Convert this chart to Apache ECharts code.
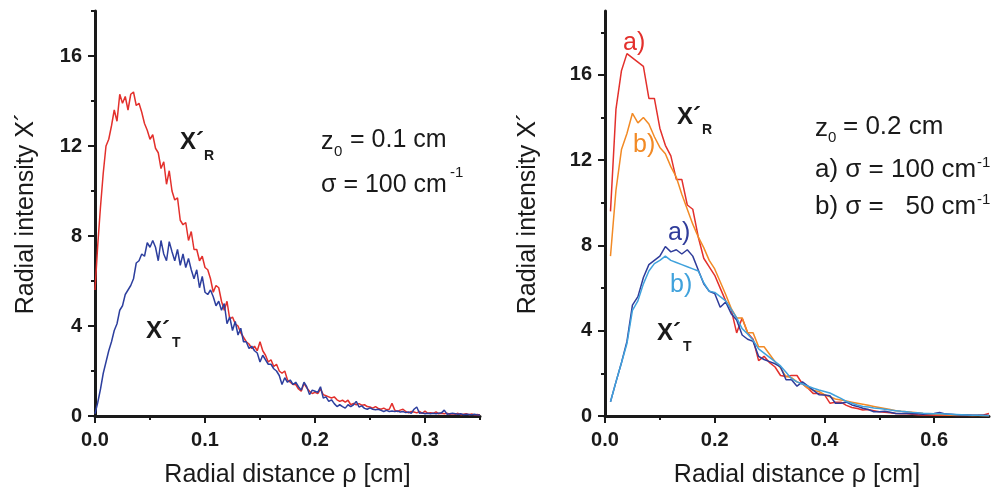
<!DOCTYPE html>
<html>
<head>
<meta charset="utf-8">
<script src="https://cdn.jsdelivr.net/npm/echarts@6/dist/echarts.min.js"></script>
<style>
html,body{margin:0;padding:0;background:#fff;}
#chart{width:995px;height:494px;}
</style>
</head>
<body>
<div id="chart"></div>
<script>
// ---------- Left panel (z0 = 0.1 cm, sigma = 100 cm^-1) ----------
const leftX = [
  0.0000,0.0025,0.0050,0.0075,0.0100,0.0125,0.0150,0.0175,0.0200,0.0225,
  0.0250,0.0275,0.0300,0.0325,0.0350,0.0375,0.0400,0.0425,0.0450,0.0475,
  0.0500,0.0525,0.0550,0.0575,0.0600,0.0625,0.0650,0.0675,0.0700,0.0725,
  0.0750,0.0775,0.0800,0.0825,0.0850,0.0875,0.0900,0.0925,0.0950,0.0975,
  0.1000,0.1025,0.1050,0.1075,0.1100,0.1125,0.1150,0.1175,0.1200,0.1225,
  0.1250,0.1275,0.1300,0.1325,0.1350,0.1375,0.1400,0.1425,0.1450,0.1475,
  0.1500,0.1525,0.1550,0.1575,0.1600,0.1625,0.1650,0.1675,0.1700,0.1725,
  0.1750,0.1775,0.1800,0.1825,0.1850,0.1875,0.1900,0.1925,0.1950,0.1975,
  0.2000,0.2025,0.2050,0.2075,0.2100,0.2125,0.2150,0.2175,0.2200,0.2225,
  0.2250,0.2275,0.2300,0.2325,0.2350,0.2375,0.2400,0.2425,0.2450,0.2475,
  0.2500,0.2525,0.2550,0.2575,0.2600,0.2625,0.2650,0.2675,0.2700,0.2725,
  0.2750,0.2775,0.2800,0.2825,0.2850,0.2875,0.2900,0.2925,0.2950,0.2975,
  0.3000,0.3025,0.3050,0.3075,0.3100,0.3125,0.3150,0.3175,0.3200,0.3225,
  0.3250,0.3275,0.3300,0.3325,0.3350,0.3375,0.3400,0.3425,0.3450,0.3475,
  0.3500
];
const leftRed = [
  5.6,7.6,9.3,10.8,12.0,12.3,12.9,13.6,13.1,14.3,
  13.9,14.2,13.6,14.3,14.4,13.8,13.9,13.5,13.0,12.7,
  12.3,12.5,11.9,11.7,11.0,11.3,10.3,10.9,10.0,9.6,
  9.7,8.7,8.5,8.6,7.8,8.2,7.4,7.4,6.9,7.1,
  6.6,6.5,6.1,5.5,5.8,5.7,5.1,4.7,5.1,4.3,
  4.4,4.1,4.0,3.7,3.5,3.3,3.2,3.0,3.1,2.9,
  3.3,2.9,2.7,2.4,2.5,2.2,2.3,2.0,1.9,2.0,
  1.6,1.5,1.4,1.4,1.2,1.1,1.45,1.25,1.1,1.0,
  1.05,1.0,1.2,0.95,0.9,0.85,0.8,0.85,0.72,0.65,
  0.7,0.62,0.7,0.5,0.56,0.5,0.55,0.48,0.5,0.42,
  0.4,0.35,0.42,0.34,0.3,0.35,0.28,0.3,0.56,0.26,
  0.2,0.26,0.3,0.2,0.14,0.2,0.18,0.14,0.2,0.12,
  0.22,0.12,0.15,0.12,0.18,0.1,0.12,0.1,0.12,0.08,
  0.1,0.08,0.12,0.06,0.08,0.1,0.06,0.09,0.05,0.07,
  0.04
];
const leftBlue = [
  0.1,0.6,1.2,1.9,2.4,2.9,3.3,3.8,4.1,4.7,
  4.9,5.4,5.6,5.8,6.1,6.8,6.9,7.2,7.1,7.7,
  7.5,7.8,7.5,6.9,7.8,7.2,6.9,7.75,7.3,6.9,
  7.4,6.7,7.2,6.6,7.0,6.5,6.1,6.5,5.7,6.2,
  5.5,5.4,5.6,5.3,4.9,5.1,4.7,5.0,4.1,4.4,
  3.8,4.2,3.6,3.9,3.3,3.3,3.0,3.1,2.9,2.8,
  2.4,2.7,2.5,2.3,2.3,2.1,2.0,1.8,1.4,1.7,
  1.5,1.6,1.4,1.5,1.3,1.15,1.5,1.3,0.95,1.15,
  1.1,1.05,1.3,0.8,0.85,0.65,0.72,0.55,0.42,0.5,
  0.42,0.35,0.5,0.42,0.5,0.65,0.4,0.45,0.34,0.3,
  0.36,0.3,0.28,0.3,0.25,0.2,0.25,0.2,0.22,0.2,
  0.22,0.18,0.2,0.15,0.18,0.12,0.3,0.4,0.12,0.14,
  0.1,0.12,0.1,0.12,0.1,0.12,0.14,0.26,0.08,0.1,
  0.12,0.1,0.08,0.1,0.06,0.08,0.07,0.05,0.08,0.05,
  0.04
];

// ---------- Right panel (z0 = 0.2 cm) ----------
const rightX = [
  0.01,0.02,0.03,0.04,0.05,0.06,0.07,0.08,0.09,0.10,
  0.11,0.12,0.13,0.14,0.15,0.16,0.17,0.18,0.19,0.20,
  0.21,0.22,0.23,0.24,0.25,0.26,0.27,0.28,0.29,0.30,
  0.31,0.32,0.33,0.34,0.35,0.36,0.37,0.38,0.39,0.40,
  0.41,0.42,0.43,0.44,0.45,0.46,0.47,0.48,0.49,0.50,
  0.51,0.52,0.53,0.54,0.55,0.56,0.57,0.58,0.59,0.60,
  0.61,0.62,0.63,0.64,0.65,0.66,0.67,0.68,0.69,0.70
];
const rightRedA = [
  9.6,14.4,16.2,17.0,16.8,16.6,16.4,14.9,14.9,13.5,
  12.7,12.2,11.1,11.1,9.9,9.7,8.4,7.4,7.0,6.6,
  6.0,5.4,5.0,3.9,4.6,3.9,3.6,2.6,2.8,2.5,
  2.3,1.9,1.85,1.9,1.9,1.5,1.3,1.05,1.05,1.0,
  0.6,0.65,0.65,0.5,0.4,0.35,0.28,0.3,0.25,0.2,
  0.18,0.15,0.12,0.1,0.1,0.08,0.06,0.05,0.05,0.04,
  0.03,0.04,0.03,0.02,0.02,0.03,0.02,0.03,0.05,0.12
];
const rightOrangeB = [
  7.5,10.6,12.5,13.25,14.2,13.75,14.0,13.7,13.1,12.6,
  12.3,11.7,11.2,10.4,9.7,9.0,8.4,7.9,7.3,6.9,
  6.3,5.7,5.05,4.6,4.6,3.9,3.9,3.25,3.25,2.9,
  2.55,2.25,1.85,1.8,1.6,1.5,1.3,1.2,1.15,1.0,
  0.9,0.8,0.75,0.7,0.65,0.6,0.55,0.5,0.45,0.4,
  0.35,0.3,0.25,0.22,0.2,0.18,0.15,0.12,0.1,0.08,
  0.07,0.06,0.05,0.04,0.03,0.03,0.02,0.02,0.01,0.01
];
const rightBlueA = [
  0.67,1.6,2.5,3.5,5.2,5.6,6.5,7.1,7.3,7.5,
  7.95,7.7,7.8,7.6,7.8,7.5,6.85,6.2,5.85,5.75,
  5.1,5.35,4.8,4.5,3.8,3.6,3.5,2.8,2.65,2.55,
  2.45,2.3,1.7,1.7,1.4,1.6,1.4,1.2,1.0,0.98,
  0.95,0.6,0.6,0.65,0.52,0.45,0.36,0.3,0.2,0.2,
  0.22,0.18,0.12,0.12,0.13,0.1,0.1,0.08,0.1,0.12,
  0.16,0.1,0.08,0.06,0.05,0.05,0.04,0.03,0.03,0.02
];
const rightLightBlueB = [
  0.67,1.6,2.5,3.4,4.95,5.4,6.2,6.8,7.15,7.3,
  7.5,7.3,7.2,7.1,7.0,6.9,6.8,6.25,5.85,5.8,
  5.6,5.4,5.0,4.6,4.1,3.85,3.55,3.15,2.95,2.75,
  2.55,2.35,2.05,1.75,1.6,1.5,1.4,1.3,1.22,1.15,
  1.08,0.95,0.83,0.68,0.6,0.52,0.45,0.42,0.38,0.35,
  0.32,0.28,0.25,0.22,0.2,0.17,0.15,0.13,0.12,0.11,
  0.1,0.09,0.08,0.07,0.06,0.05,0.04,0.03,0.02,0.01
];

// ---------- Ticks ----------
const leftXTicks = [0, 0.1, 0.2, 0.3];
const leftXMinor = [0.05, 0.15, 0.25, 0.35];
const rightXTicks = [0, 0.2, 0.4, 0.6];
const rightXMinor = [0.1, 0.3, 0.5];
const yTicks = [0, 4, 8, 12, 16];
const yMinor = [2, 6, 10, 14, 18];

const xName = 'Radial distance \u03c1 [cm]';
const yName = 'Radial intensity X\u00b4';

const AX = '#1a1a1a';
const LABEL_FONT = {fontFamily: 'Liberation Sans', fontWeight: 'bold', fontSize: 20, color: AX};
const NAME_FONT = {fontFamily: 'Liberation Sans', fontSize: 25, color: AX};

function zip(xs, ys){ return xs.map((x, i) => [x, ys[i]]); }

function majorX(grid, max, ticks){
  return {
    type: 'value', gridIndex: grid, min: 0, max: max,
    name: xName, nameLocation: 'middle', nameGap: 47, nameTextStyle: NAME_FONT,
    axisLine: {show: true, onZero: false, lineStyle: {color: AX, width: 3}},
    axisTick: {show: true, customValues: ticks, length: 7, lineStyle: {color: AX, width: 2}},
    axisLabel: Object.assign({show: true, customValues: ticks, margin: 14,
      formatter: v => Number(v).toFixed(1)}, LABEL_FONT),
    splitLine: {show: false}
  };
}
function minorX(grid, max, ticks){
  return {
    type: 'value', gridIndex: grid, min: 0, max: max, position: 'bottom',
    axisLine: {show: false, onZero: false},
    axisTick: {show: true, customValues: ticks, length: 4, lineStyle: {color: AX, width: 2}},
    axisLabel: {show: false}, splitLine: {show: false}
  };
}
function majorY(grid, max, gap){
  return {
    type: 'value', gridIndex: grid, min: 0, max: max,
    name: yName, nameLocation: 'middle', nameGap: gap, nameTextStyle: NAME_FONT,
    axisLine: {show: true, onZero: false, lineStyle: {color: AX, width: 3}},
    axisTick: {show: true, customValues: yTicks, length: 7, lineStyle: {color: AX, width: 2}},
    axisLabel: Object.assign({show: true, customValues: yTicks, margin: 13}, LABEL_FONT),
    splitLine: {show: false}
  };
}
function minorY(grid, max){
  return {
    type: 'value', gridIndex: grid, min: 0, max: max, position: 'left',
    axisLine: {show: false, onZero: false},
    axisTick: {show: true, customValues: yMinor, length: 4, lineStyle: {color: AX, width: 2}},
    axisLabel: {show: false}, splitLine: {show: false}
  };
}

function line(xi, yi, data, color, z){
  return {type: 'line', xAxisIndex: xi, yAxisIndex: yi, data: data, showSymbol: false,
    symbol: 'none', lineStyle: {color: color, width: 1.5}, z: z, animation: false, silent: true};
}

function txt(x, y, text, font, color){
  return {type: 'text', x: x, y: y, z: 100,
    style: {text: text, font: font, fill: color || AX, align: 'left', verticalAlign: 'middle',
            textAlign: 'left', textVerticalAlign: 'middle'}};
}
const F = '"Liberation Sans", Arial, sans-serif';
const RED = '#e3302c', BLUE = '#2d3f9e', ORANGE = '#f28a25', DBLUE = '#2f3c9a', LBLUE = '#40a2dc';

const chart = echarts.init(document.getElementById('chart'), null, {renderer: 'canvas'});
chart.setOption({
  animation: false,
  backgroundColor: '#fff',
  grid: [
    {left: 95, top: 11, width: 385, height: 405, containLabel: false},
    {left: 605, top: 11, width: 384, height: 405, containLabel: false}
  ],
  xAxis: [
    majorX(0, 0.35, leftXTicks), minorX(0, 0.35, leftXMinor),
    majorX(1, 0.7, rightXTicks), minorX(1, 0.7, rightXMinor)
  ],
  yAxis: [
    majorY(0, 18, 56), minorY(0, 18),
    majorY(1, 19, 64), minorY(1, 19)
  ],
  series: [
    line(0, 0, zip(leftX, leftRed), RED, 2),
    line(0, 0, zip(leftX, leftBlue), BLUE, 3),
    line(2, 2, zip(rightX, rightRedA), RED, 2),
    line(2, 2, zip(rightX, rightOrangeB), ORANGE, 3),
    line(2, 2, zip(rightX, rightBlueA), DBLUE, 4),
    line(2, 2, zip(rightX, rightLightBlueB), LBLUE, 5)
  ],
  graphic: [
    // left panel labels
    txt(180, 142, 'X\u00b4', 'bold 24px ' + F),
    txt(204, 156, 'R', 'bold 14px ' + F),
    txt(146, 331, 'X\u00b4', 'bold 24px ' + F),
    txt(172, 343, 'T', 'bold 14px ' + F),
    txt(321, 142, 'z', '25px ' + F),
    txt(334, 152, '0', '15px ' + F),
    txt(350, 140, '= 0.1 cm', '25px ' + F),
    txt(321, 185, '\u03c3 = 100 cm', '25px ' + F),
    txt(450, 173, '-1', '15px ' + F),
    // right panel labels
    txt(623, 43, 'a)', '25px ' + F, RED),
    txt(633, 145, 'b)', '25px ' + F, ORANGE),
    txt(677, 117, 'X\u00b4', 'bold 24px ' + F),
    txt(702, 130, 'R', 'bold 14px ' + F),
    txt(668, 233, 'a)', '25px ' + F, DBLUE),
    txt(670, 285, 'b)', '25px ' + F, LBLUE),
    txt(657, 333, 'X\u00b4', 'bold 24px ' + F),
    txt(683, 347, 'T', 'bold 14px ' + F),
    txt(815, 129, 'z', '26px ' + F),
    txt(828, 138, '0', '15px ' + F),
    txt(843, 127, '= 0.2 cm', '26px ' + F),
    txt(815, 170, 'a) \u03c3 = 100 cm', '26px ' + F),
    txt(977, 163, '-1', '15px ' + F),
    txt(815, 207, 'b) \u03c3 =   50 cm', '26px ' + F),
    txt(977, 200, '-1', '15px ' + F)
  ]
});
</script>
</body>
</html>
